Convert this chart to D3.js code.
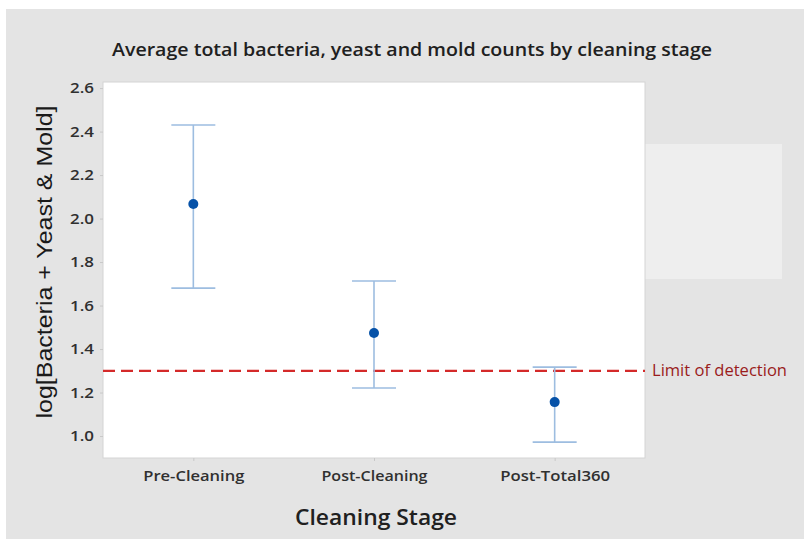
<!DOCTYPE html>
<html><head><meta charset="utf-8">
<script src="https://cdn.jsdelivr.net/npm/d3@7"></script>
<style>body{margin:0;background:#fff}svg{display:block}</style>
</head><body>
<svg id="c" width="804" height="539"></svg>
<script>
const categories = ["Pre-Cleaning", "Post-Cleaning", "Post-Total360"];
const means = [2.067, 1.474, 1.156];
const upper = [2.43, 1.713, 1.317];
const lower = [1.68, 1.221, 0.972];
const yTicks = [1.0, 1.2, 1.4, 1.6, 1.8, 2.0, 2.2, 2.4, 2.6];
const limitOfDetection = 1.3;

const svg = d3.select("#c");
svg.append("rect").attr("x",6).attr("y",9).attr("width",798).attr("height",530).attr("fill","#e4e4e4");
svg.append("rect").attr("x",645).attr("y",144).attr("width",137).attr("height",135).attr("fill","#eeeeee");

const L=103,R=645,T=82,B=458;
const x = d3.scalePoint().domain(categories).range([L,R]).padding(0.5);
const y = d3.scaleLinear().domain([0.899,2.628]).range([B,T]);

svg.append("rect").attr("x",L).attr("y",T).attr("width",R-L).attr("height",B-T).attr("fill","#fff").attr("stroke","#d4d4d4");

const fontTick = "'Open Sans', sans-serif";
const ya = svg.append("g").attr("transform",`translate(${L},0)`).call(d3.axisLeft(y).tickValues(yTicks).tickFormat(d3.format(".1f")).tickSize(3).tickPadding(6));
const xa = svg.append("g").attr("transform",`translate(0,${B})`).call(d3.axisBottom(x).tickSize(3).tickPadding(9));
[ya,xa].forEach(a=>{
  a.select(".domain").remove();
  a.selectAll("line").attr("stroke","#c8c8c8");
  a.selectAll("text").attr("font-family",fontTick).attr("font-size",15).attr("font-weight",600).attr("fill","#303030");
});
ya.selectAll("text").attr("textLength",24).attr("lengthAdjust","spacingAndGlyphs");
xa.selectAll("text").each(function(d){
  const w = {"Pre-Cleaning":101,"Post-Cleaning":106,"Post-Total360":110}[d];
  d3.select(this).attr("textLength",w).attr("lengthAdjust","spacingAndGlyphs");
});

// limit line
svg.append("line").attr("x1",L).attr("x2",R).attr("y1",y(limitOfDetection)).attr("y2",y(limitOfDetection))
  .attr("stroke","#d42a2a").attr("stroke-width",2.2).attr("stroke-dasharray","12,6");
svg.append("text").attr("x",652).attr("y",y(limitOfDetection)+5).text("Limit of detection")
  .attr("font-family",fontTick).attr("font-size",15.5).attr("fill","#9a1c1c").attr("textLength",135).attr("lengthAdjust","spacingAndGlyphs");

const g = svg.append("g");
const cap=22, eb="#9dbde0";
categories.forEach((c,i)=>{
  const cx=x(c);
  g.append("line").attr("x1",cx).attr("x2",cx).attr("y1",y(upper[i])).attr("y2",y(lower[i])).attr("stroke",eb).attr("stroke-width",1.6);
  g.append("line").attr("x1",cx-cap).attr("x2",cx+cap).attr("y1",y(upper[i])).attr("y2",y(upper[i])).attr("stroke",eb).attr("stroke-width",1.6);
  g.append("line").attr("x1",cx-cap).attr("x2",cx+cap).attr("y1",y(lower[i])).attr("y2",y(lower[i])).attr("stroke",eb).attr("stroke-width",1.6);
  g.append("circle").attr("cx",cx).attr("cy",y(means[i])).attr("r",5).attr("fill","#0652a8");
});

svg.append("text").attr("x",412).attr("y",56).attr("text-anchor","middle").text("Average total bacteria, yeast and mold counts by cleaning stage")
  .attr("font-family",fontTick).attr("font-size",18).attr("font-weight",600).attr("fill","#202020").attr("textLength",600).attr("lengthAdjust","spacingAndGlyphs");
svg.append("text").attr("transform","translate(52,262) rotate(-90)").attr("text-anchor","middle").text("log[Bacteria + Yeast & Mold]")
  .attr("font-family","'Liberation Sans', Arial, sans-serif").attr("font-size",22).attr("fill","#1a1a1a").attr("textLength",313).attr("lengthAdjust","spacingAndGlyphs");
svg.append("text").attr("x",376).attr("y",525).attr("text-anchor","middle").text("Cleaning Stage")
  .attr("font-family",fontTick).attr("font-size",21).attr("font-weight",600).attr("fill","#202020").attr("textLength",162).attr("lengthAdjust","spacingAndGlyphs");
</script>
</body></html>
